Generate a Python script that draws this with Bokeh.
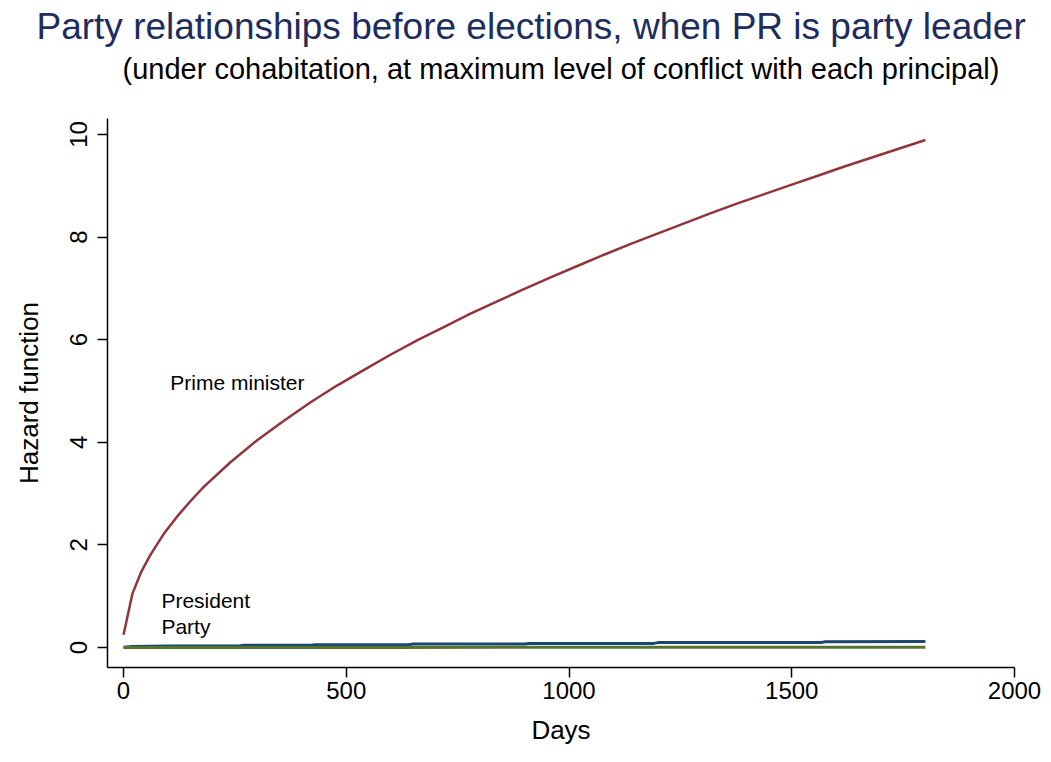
from bokeh.plotting import figure
from bokeh.models import Range1d, FixedTicker, Title
from bokeh.core.properties import value
from bokeh.embed import file_html
from bokeh.resources import INLINE

# ---- data ----
pm_days = [0, 20, 40, 60, 90, 120, 150, 180, 240, 300, 360, 420, 480, 540, 600,
           660, 720, 780, 840, 900, 960, 1020, 1080, 1140, 1200, 1260, 1320,
           1380, 1440, 1500, 1560, 1620, 1680, 1740, 1800]
pm_hazard = [0.25, 1.05, 1.48, 1.80, 2.21, 2.55, 2.85, 3.13, 3.61, 4.04, 4.42,
             4.78, 5.11, 5.41, 5.71, 5.99, 6.25, 6.51, 6.75, 6.99, 7.22, 7.44,
             7.66, 7.87, 8.07, 8.27, 8.47, 8.66, 8.84, 9.02, 9.20, 9.38, 9.55,
             9.72, 9.89]

pres_days = [0, 20, 100, 260, 270, 420, 430, 640, 650, 900, 910, 1190, 1200,
             1565, 1575, 1800]
pres_hazard = [0.005, 0.02, 0.03, 0.03, 0.045, 0.045, 0.055, 0.055, 0.07, 0.07,
               0.08, 0.08, 0.095, 0.095, 0.11, 0.115]

party_days = [0, 600, 1200, 1800]
party_hazard = [0.0, 0.002, 0.003, 0.004]

label_text = ["Prime minister", "President", "Party"]
label_x = [105, 85, 85]
label_y = [5.17, 0.92, 0.41]

x_ticks = [0, 500, 1000, 1500, 2000]
y_ticks = [0, 2, 4, 6, 8, 10]

FONT = "Liberation Sans"

p = figure(width=1043, height=754, output_backend="svg", toolbar_location=None,
           x_range=Range1d(-36, 2000), y_range=Range1d(-0.39, 10.31),
           min_border_left=107, min_border_right=29, min_border_top=118,
           min_border_bottom=87)
p.outline_line_color = None
p.xgrid.visible = False
p.ygrid.visible = False
p.background_fill_color = "white"
p.border_fill_color = "white"

sub = Title(text="(under cohabitation, at maximum level of conflict with each principal)",
            align="center", text_font=FONT, text_font_size="29px",
            text_font_style="normal", text_color="black", standoff=68)
main = Title(text="Party relationships before elections, when PR is party leader",
             align="left", offset=-71, text_font=FONT, text_font_size="37px",
             text_font_style="normal", text_color="#1c2d5e", standoff=-60)
p.add_layout(sub, "above")
p.add_layout(main, "above")

p.line(pm_days, pm_hazard, line_color="#90353b", line_width=2.5)
p.line(pres_days, pres_hazard, line_color="#1a476f", line_width=3)
p.line(party_days, party_hazard, line_color="#55752f", line_width=3)

p.text(label_x, label_y, text=label_text, text_font=value(FONT),
       text_font_size="21px", text_baseline="middle", text_align="left",
       text_color="black")

for ax in (p.xaxis[0], p.yaxis[0]):
    ax.axis_line_color = "black"
    ax.axis_line_width = 1.5
    ax.major_tick_line_color = "black"
    ax.major_tick_line_width = 1.5
    ax.major_tick_out = 10
    ax.major_tick_in = 0
    ax.minor_tick_line_color = None
    ax.major_label_text_font = FONT
    ax.major_label_text_font_size = "24px"
    ax.major_label_text_color = "black"
    ax.axis_label_text_font = FONT
    ax.axis_label_text_font_size = "26px"
    ax.axis_label_text_font_style = "normal"
    ax.axis_label_text_color = "black"

p.xaxis[0].ticker = FixedTicker(ticks=x_ticks)
p.yaxis[0].ticker = FixedTicker(ticks=y_ticks)
p.xaxis[0].axis_label = "Days"
p.yaxis[0].axis_label = "Hazard function"
p.xaxis[0].major_label_standoff = 4
p.xaxis[0].axis_label_standoff = 13
p.yaxis[0].major_label_orientation = "vertical"
p.yaxis[0].major_label_standoff = 10
p.yaxis[0].axis_label_standoff = 24

open("out.html", "w").write(file_html(p, INLINE))
